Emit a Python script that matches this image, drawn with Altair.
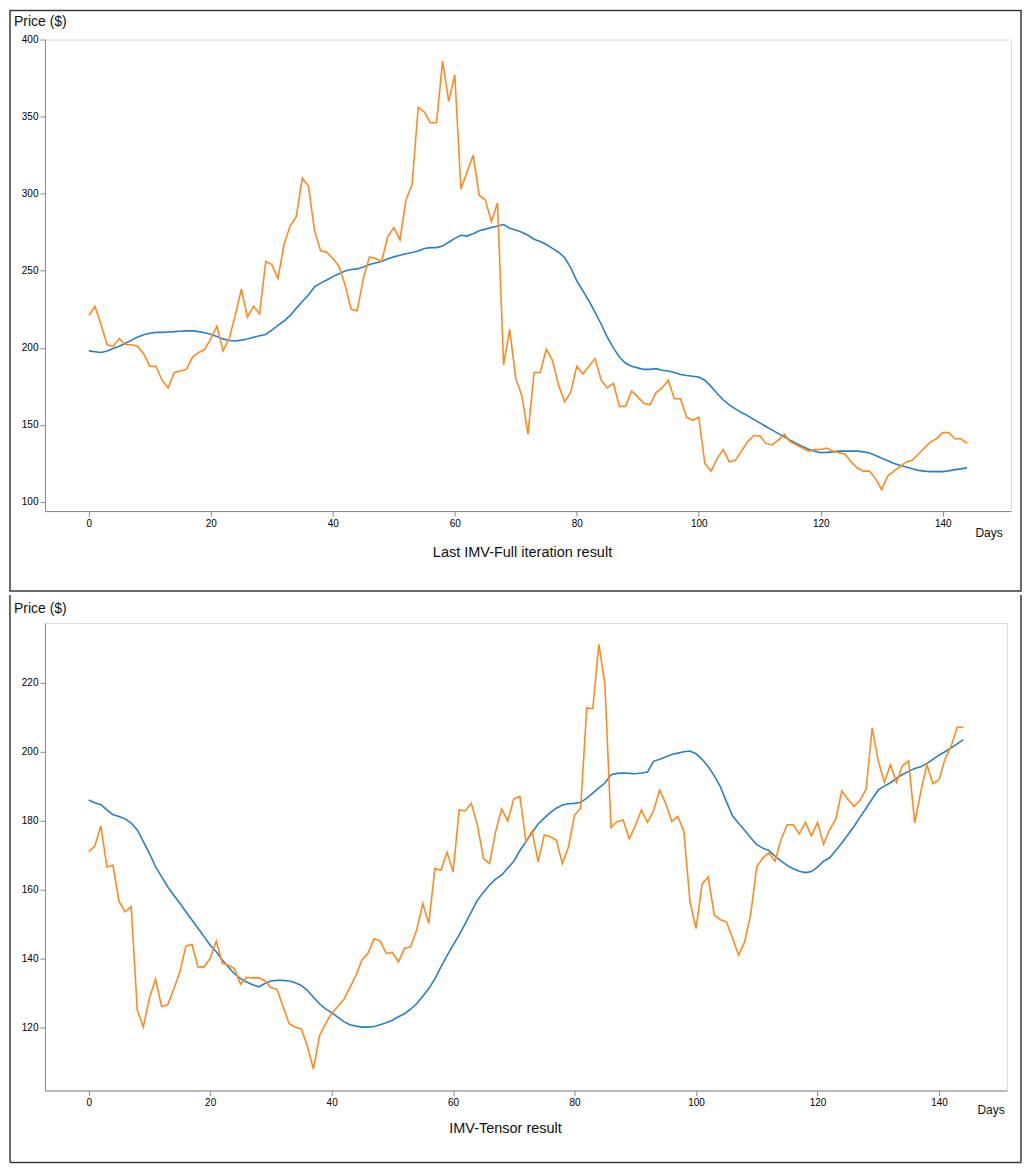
import altair as alt
import pandas as pd

days = list(range(145))

top_actual = [221, 227, 215, 202, 201, 206, 202, 202, 201, 196,
              188, 188, 179, 174, 184, 185, 186, 194, 197, 199,
              206, 214, 198, 206, 221, 238, 220, 227, 222, 256,
              254, 245, 267, 279, 285, 310, 305, 276, 263, 262,
              258, 253, 241, 225, 224, 245, 259, 258, 256, 272,
              278, 270, 296, 306, 356, 353, 346, 346, 386, 360,
              377, 303, 314, 325, 299, 296, 282, 294, 189, 212,
              180, 169, 144, 184, 184, 199, 192, 176, 165, 171,
              188, 183, 188, 193, 179, 174, 177, 162, 162, 172,
              168, 164, 163, 171, 174, 179, 167, 167, 155, 153,
              155, 125, 120, 128, 134, 126, 127, 133, 139, 143,
              143, 138, 137, 140, 144, 139, 137, 135, 133, 134,
              134, 135, 133, 132, 131, 126, 122, 120, 120, 115,
              108, 117, 120, 123, 126, 127, 131, 135, 139, 141,
              145, 145, 141, 141, 138]

top_pred = [198, 197.5, 197, 198, 199.5, 201, 203, 205, 207, 208.5,
            209.5, 210, 210, 210.3, 210.5, 210.8, 211, 211, 210.5, 209.8,
            208.8, 207.3, 205.8, 204.8, 204.4, 205, 205.7, 206.8, 207.9, 208.7,
            211.5, 214.5, 217.4, 221, 225.6, 230, 234.3, 239.5, 242, 244,
            246.2, 248, 249.9, 250.8, 251.2, 252.5, 254, 255, 256, 257.8,
            259, 260, 261, 261.8, 262.8, 264.5, 265, 265, 266, 268.5,
            271, 273, 272.5, 274, 276, 277, 278, 279, 280, 277.5,
            276.5, 275, 273, 270.5, 269, 267, 264.5, 262, 258.6, 252,
            243.5, 237, 230.4, 223, 215.3, 207, 200, 194, 190, 188,
            187, 186, 186, 186.5, 185.5, 185, 184, 182.7, 182, 181.6,
            181, 179, 175, 170.5, 166.3, 163, 160.4, 158, 156, 153.6,
            151.3, 149, 146.8, 144.5, 142.2, 140, 138, 136, 134.2, 133,
            132, 132.2, 132.5, 133, 133, 133, 133, 132.5, 131.8, 130.2,
            128.4, 126.8, 125, 123.8, 122.7, 121.5, 120.5, 120, 119.7, 119.7,
            119.7, 120.2, 121, 121.5, 122.3]

bot_actual = [171, 172.5, 178.5, 166.5, 167, 156.5, 153.5, 155, 125, 120,
              128.5, 134, 126, 126.5, 131, 136, 143.5, 144, 137.5, 137.5,
              140, 145, 138.5, 138, 137, 132.5, 134.5, 134.3, 134.3, 133.5,
              131.5, 131, 126, 121, 120, 119.5, 114.5, 107.8, 117.5, 121,
              124, 126, 128, 131.5, 135, 139.5, 141.5, 145.7, 145, 141.4,
              141.7, 139, 142.9, 143.3, 148.2, 155.9, 150.1, 166.1, 165.6, 170.8,
              165.1, 183.1, 182.8, 185, 178.7, 169, 167.5, 176.8, 183.4, 179.9,
              186.3, 187, 173.9, 177, 168, 175.8, 175.3, 174.3, 167.5, 172.4,
              181.6, 183.6, 212.7, 212.5, 231.2, 219.5, 178, 179.7, 180.2, 174.7,
              178.5, 183.1, 179.5, 182.8, 188.9, 185, 179.7, 181.2, 176.8, 156.4,
              148.6, 161.6, 163.6, 152.6, 151.2, 150.6, 145.9, 140.9, 144.8, 152.8,
              166.5, 169.2, 170.6, 168.2, 174.5, 178.8, 178.8, 176.1, 179.5, 175.6,
              179.5, 173.1, 177.4, 180.4, 188.6, 186.2, 184.1, 185.9, 189.1, 206.9,
              197.3, 191.1, 196.2, 191.1, 196, 197.3, 179.3, 188.3, 196.2, 190.7,
              191.8, 197.9, 201.6, 207.1, 207.1]

bot_pred = [186, 185.2, 184.6, 183.1, 181.7, 181.2, 180.5, 179.3, 177.3, 173.9,
            170.5, 166.6, 163.7, 160.8, 158.4, 156, 153.5, 151.1, 148.7, 146.3,
            143.8, 141.9, 139.5, 137.5, 135.5, 134.1, 133.1, 132.3, 131.7, 132.7,
            133.4, 133.6, 133.6, 133.4, 132.9, 132.1, 130.7, 128.7, 126.8, 125.3,
            124.2, 122.9, 121.6, 120.7, 120.3, 120, 120, 120.2, 120.7, 121.3,
            122, 123, 123.9, 125.2, 126.8, 129, 131.2, 134, 137.5, 140.8,
            143.8, 146.8, 150.1, 153.5, 156.9, 159.2, 161.3, 163, 164.2, 166.2,
            168.2, 171.3, 173.9, 176.5, 179, 180.7, 182.3, 183.6, 184.5, 184.9,
            185, 185.3, 186.5, 188, 189.5, 190.9, 193.3, 193.7, 193.8, 193.7,
            193.6, 193.8, 194.1, 197.2, 197.8, 198.5, 199.2, 199.6, 200, 200.2,
            199.4, 197.8, 195.7, 193, 189.9, 185.5, 181.4, 179.2, 177.2, 175,
            173, 172, 171.3, 169.7, 168.2, 167, 166, 165.3, 164.9, 165.2,
            166.5, 168.2, 169.2, 171.3, 173.5, 175.9, 178.3, 181, 183.6, 186.3,
            188.9, 190, 191, 192.3, 193.4, 194.3, 195.1, 195.6, 196.6, 197.8,
            199, 200, 201.1, 202.3, 203.5]

x_ticks = [0, 20, 40, 60, 80, 100, 120, 140]
top_y_ticks = [100, 150, 200, 250, 300, 350, 400]
bot_y_ticks = [120, 140, 160, 180, 200, 220]
x_domain = [-7.2, 151.2]
top_y_domain = [94.1, 400]
bot_y_domain = [101.6, 237.4]

BLUE = "#2a7fbf"
ORANGE = "#ff8a1f"
BORDER = "#3a3a3a"
TXT_FONT = "Liberation Sans"
one = pd.DataFrame({"k": [0]})


def panel(actual, pred, ydom, yticks, w, h, caption, price_y, days_xy, cap_xy, box, top_closed):
    xenc = alt.X("day:Q", scale=alt.Scale(domain=x_domain, nice=False, zero=False),
                 axis=alt.Axis(values=x_ticks, title=None, format="d", grid=False))
    yenc = alt.Y("price:Q", scale=alt.Scale(domain=ydom, nice=False, zero=False),
                 axis=alt.Axis(values=yticks, title=None, format="d", grid=False))
    d_pred = pd.DataFrame({"day": days, "price": pred})
    d_act = pd.DataFrame({"day": days, "price": actual})
    l_pred = alt.Chart(d_pred).mark_line(color=BLUE, strokeWidth=1.6, clip=True).encode(x=xenc, y=yenc)
    l_act = alt.Chart(d_act).mark_line(color=ORANGE, strokeWidth=1.6, clip=True).encode(x=xenc, y=yenc)

    t_price = alt.Chart(one).mark_text(text="Price ($)", font=TXT_FONT, fontSize=14, align="left",
                                       baseline="middle", color="#111").encode(
        x=alt.value(-31), y=alt.value(price_y))
    t_days = alt.Chart(one).mark_text(text="Days", font=TXT_FONT, fontSize=12, align="center",
                                      baseline="middle", color="#111").encode(
        x=alt.value(days_xy[0]), y=alt.value(days_xy[1]))
    t_cap = alt.Chart(one).mark_text(text=caption, font=TXT_FONT, fontSize=14.5, align="center",
                                     baseline="middle", color="#111").encode(
        x=alt.value(cap_xy[0]), y=alt.value(cap_xy[1]))

    bx1, by1, bx2, by2 = box
    layers = [l_pred, l_act, t_price, t_days, t_cap]
    if top_closed:
        layers.append(alt.Chart(one).mark_rect(fillOpacity=0, stroke=BORDER, strokeWidth=1.5).encode(
            x=alt.value(bx1), x2=alt.value(bx2), y=alt.value(by1), y2=alt.value(by2)))
    else:
        layers.append(alt.Chart(one).mark_rule(color=BORDER, strokeWidth=1.5).encode(
            x=alt.value(bx1), y=alt.value(by1), y2=alt.value(by2)))
        layers.append(alt.Chart(one).mark_rule(color=BORDER, strokeWidth=1.5).encode(
            x=alt.value(bx2), y=alt.value(by1), y2=alt.value(by2)))
        layers.append(alt.Chart(one).mark_rule(color=BORDER, strokeWidth=1.5).encode(
            x=alt.value(bx1), x2=alt.value(bx2), y=alt.value(by2)))
    return alt.layer(*layers).properties(width=w, height=h)


top = panel(top_actual, top_pred, top_y_domain, top_y_ticks, 967, 472,
            "Last IMV-Full iteration result", -18, (945, 494), (478, 514),
            (-35, -29, 977, 552), True)
bottom = panel(bot_actual, bot_pred, bot_y_domain, bot_y_ticks, 963, 468,
               "IMV-Tensor result", -14, (947, 488), (461, 507),
               (-35, -28, 977, 540), False)

chart = alt.vconcat(top, bottom, spacing=0).properties(padding=0).configure_view(
    stroke="#a0a0a0", strokeWidth=1.5
).configure_axis(
    grid=False, labelFont="DejaVu Sans", labelFontSize=8, labelColor="#555",
    tickColor="#666", tickSize=4, domainColor="#777", domainWidth=1, labelPadding=2
).configure(background="white")

chart.save("out.html", embed_options={"renderer": "svg", "actions": False})
